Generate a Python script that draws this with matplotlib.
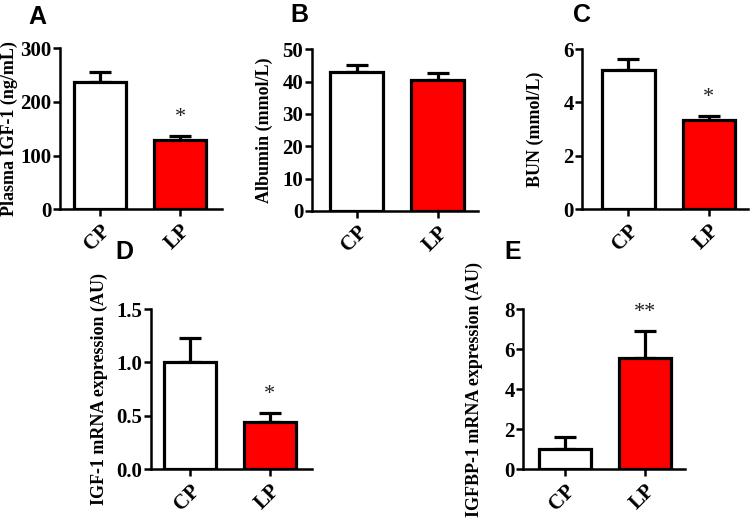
import matplotlib
matplotlib.use("Agg")
import matplotlib.pyplot as plt
import numpy as np

groups = ["CP", "LP"]
colors = ["white", "#FF0000"]

igf_plasma = [237, 129]
igf_plasma_err = [18, 8]

albumin = [43.0, 40.4]
albumin_err = [2.0, 2.3]

bun = [5.21, 3.34]
bun_err = [0.40, 0.15]

igf_mrna = [1.0, 0.44]
igf_mrna_err = [0.226, 0.084]

igfbp_mrna = [1.0, 5.55]
igfbp_mrna_err = [0.62, 1.35]

panels = [
    dict(label="A", vals=igf_plasma, errs=igf_plasma_err, ylabel="Plasma IGF-1 (ng/mL)",
         ylim=300, step=100, fmt="{:.0f}", stars=["", "*"],
         rect=[0.080, 0.599, 0.216, 0.3084], xlim=(-0.50, 1.525), lab=(28, 24), ylx=-0.258),
    dict(label="B", vals=albumin, errs=albumin_err, ylabel="Albumin (mmol/L)",
         ylim=50, step=10, fmt="{:.0f}", stars=["", ""],
         rect=[0.4156, 0.5958, 0.2217, 0.310], xlim=(-0.556, 1.50), lab=(290, 22), ylx=-0.23),
    dict(label="C", vals=bun, errs=bun_err, ylabel="BUN (mmol/L)",
         ylim=6, step=2, fmt="{:.0f}", stars=["", "*"],
         rect=[0.7764, 0.599, 0.221, 0.307], xlim=(-0.575, 1.49), lab=(573, 22), ylx=-0.23),
    dict(label="D", vals=igf_mrna, errs=igf_mrna_err, ylabel="IGF-1 mRNA expression (AU)",
         ylim=1.5, step=0.5, fmt="{:.1f}", stars=["", "*"],
         rect=[0.2009, 0.101, 0.215, 0.307], xlim=(-0.49, 1.525), lab=(115, 259), ylx=-0.265),
    dict(label="E", vals=igfbp_mrna, errs=igfbp_mrna_err, ylabel="IGFBP-1 mRNA expression (AU)",
         ylim=8, step=2, fmt="{:.0f}", stars=["", "**"],
         rect=[0.6973, 0.101, 0.216, 0.307], xlim=(-0.525, 1.50), lab=(504, 259), ylx=-0.245),
]

W, H = 750, 522
fig = plt.figure(figsize=(7.5, 5.22), dpi=100)
serif = "Liberation Serif"

for p in panels:
    ax = fig.add_axes(p["rect"])
    x = np.arange(len(groups))
    ax.bar(x, p["vals"], width=0.65, color=colors, edgecolor="black",
           linewidth=2.3, zorder=3)
    ax.errorbar(x, p["vals"], yerr=[np.zeros(len(x)), p["errs"]], fmt="none",
                ecolor="black", elinewidth=2.3, capsize=8, capthick=2.3, zorder=2)
    ymax = p["ylim"]
    for xi, v, e, s in zip(x, p["vals"], p["errs"], p["stars"]):
        if s:
            ax.text(xi, v + e + 0.115 * ymax, s, ha="center", va="center",
                    fontsize=16, family=serif, color="#222222")
    ax.set_ylim(0, ymax)
    ax.set_xlim(*p["xlim"])
    ticks = np.arange(0, ymax + 1e-9, p["step"])
    ax.set_yticks(ticks)
    ax.set_yticklabels([p["fmt"].format(t) for t in ticks], family=serif,
                       fontweight="bold", fontsize=15)
    ax.set_xticks(x)
    ax.set_xticklabels(groups, rotation=45, ha="right", rotation_mode="anchor",
                       family=serif, fontweight="bold", fontsize=15)
    ax.spines["top"].set_visible(False)
    ax.spines["right"].set_visible(False)
    for sp in ["left", "bottom"]:
        ax.spines[sp].set_linewidth(1.8)
    ax.tick_params(axis="both", direction="out", length=5, width=1.8, pad=1)
    ax.tick_params(axis="x", pad=3)
    ax.set_ylabel(p["ylabel"], family=serif, fontweight="bold", fontsize=13)
    ax.yaxis.set_label_coords(p["ylx"], 0.5)
    lx, ly = p["lab"]
    fig.text(lx / W, 1 - ly / H, p["label"], family="Liberation Sans",
             fontweight="bold", fontsize=18, ha="left", va="baseline")

fig.savefig("out.png", dpi=100, facecolor="white")
